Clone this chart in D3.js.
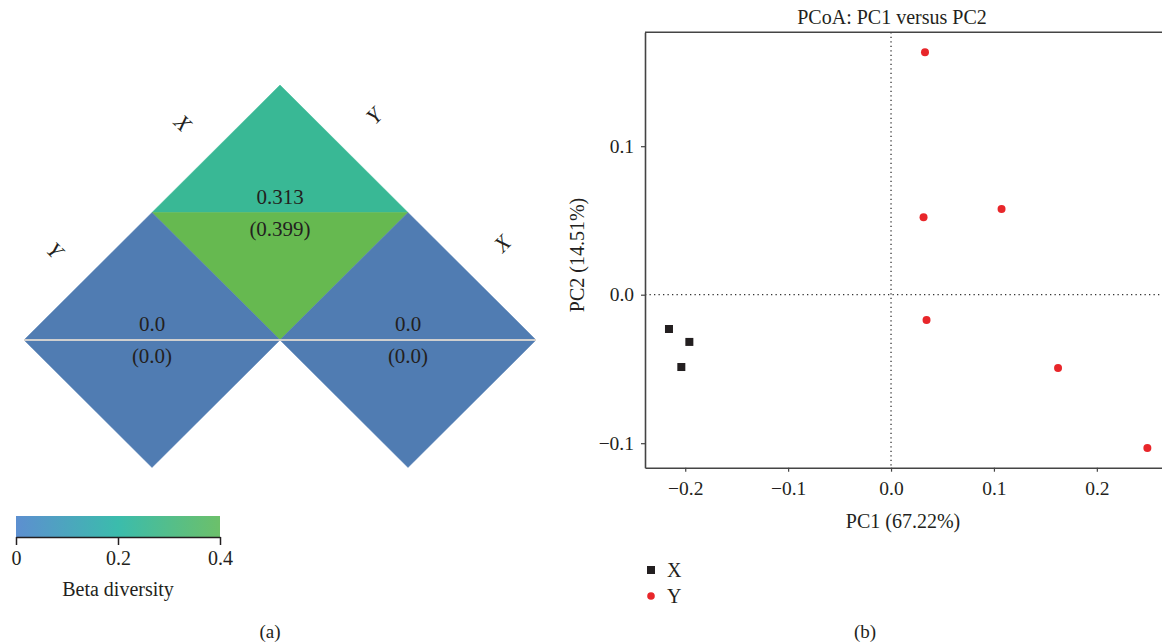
<!DOCTYPE html>
<html>
<head>
<meta charset="utf-8">
<script src="https://cdn.jsdelivr.net/npm/d3@7"></script>
<style>
  html, body { margin: 0; padding: 0; background: #fff; }
  svg { display: block; font-family: "Liberation Serif", "DejaVu Serif", serif; }
  text { fill: #231f20; }
</style>
</head>
<body>
<svg id="chart" width="1162" height="643"></svg>
<script>
// ---------- Panel (a): pairwise beta diversity ----------
const groups = ["X", "Y"];                 // group order along the left edge, top to bottom
const groupsRight = ["Y", "X"];            // group order along the right edge, top to bottom
// cells: left-edge group, right-edge group, upper value, lower value
const cellLeft  = ["X", "Y", "X"];
const cellRight = ["Y", "Y", "X"];
const upperValues = [0.313, 0.0, 0.0];
const lowerValues = [0.399, 0.0, 0.0];
const upperLabels = ["0.313", "0.0", "0.0"];
const lowerLabels = ["(0.399)", "(0.0)", "(0.0)"];
const colorTicks = [0, 0.2, 0.4];
const colorStops = ["#5d8fd0", "#3bbcac", "#6cc06a"];

// ---------- Panel (b): PCoA ----------
const xSamplesPC1 = [-0.2158, -0.1960, -0.2038];
const xSamplesPC2 = [-0.0231, -0.0318, -0.0487];
const ySamplesPC1 = [0.0330, 0.0316, 0.1074, 0.0345, 0.1623, 0.2491];
const ySamplesPC2 = [0.1632, 0.0521, 0.0577, -0.0170, -0.0494, -0.1032];
const pc1Ticks = [-0.2, -0.1, 0.0, 0.1, 0.2];
const pc2Ticks = [-0.1, 0.0, 0.1];

const svg = d3.select("#chart");
const defs = svg.append("defs");

// ===== Panel (a) =====
const gA = svg.append("g");
const apex = [280, 85];         // apex of the triangle
const half = [128, 127.5];      // half-diagonal of one diamond
const li = d3.scaleOrdinal().domain(groups).range([0, 1]);
const ri = d3.scaleOrdinal().domain(groupsRight).range([0, 1]);

// cell fill: blue at 0, teal around 0.3, green toward 0.4
const cellColor = d3.scaleLinear().domain([0, 0.32, 0.4])
  .range(["#507cb2", "#38b994", "#67b94f"]).clamp(true);

function cellTop(a, b) {
  return [apex[0] + (b - a) * half[0], apex[1] + (a + b) * half[1]];
}

cellLeft.forEach((lg, i) => {
  const a = li(lg), b = ri(cellRight[i]);
  const [tx, ty] = cellTop(a, b);
  const midY = ty + half[1];
  const upper = [[tx, ty], [tx + half[0], midY], [tx - half[0], midY]];
  const lower = [[tx - half[0], midY], [tx + half[0], midY], [tx, ty + 2 * half[1]]];
  gA.append("path").attr("d", d3.line()(upper) + "Z")
    .attr("fill", cellColor(upperValues[i])).attr("stroke", cellColor(upperValues[i])).attr("stroke-width", 0.5);
  gA.append("path").attr("d", d3.line()(lower) + "Z")
    .attr("fill", cellColor(lowerValues[i])).attr("stroke", cellColor(lowerValues[i])).attr("stroke-width", 0.5);
  if (lg === cellRight[i]) {
    gA.append("line").attr("x1", tx - half[0]).attr("x2", tx + half[0])
      .attr("y1", midY).attr("y2", midY).attr("stroke", "#cfcfcf").attr("stroke-width", 2);
  }
  gA.append("text").attr("x", tx).attr("y", midY - 9).attr("text-anchor", "middle")
    .attr("font-size", 21).text(upperLabels[i]);
  gA.append("text").attr("x", tx).attr("y", midY + 23).attr("text-anchor", "middle")
    .attr("font-size", 21).text(lowerLabels[i]);
});

// edge labels
groups.forEach(g => {
  const [tx, ty] = cellTop(li(g), 0);
  const mx = tx - half[0] / 2 - 33, my = ty + half[1] / 2 - 26;
  gA.append("text").attr("transform", `translate(${mx},${my}) rotate(45)`)
    .attr("text-anchor", "middle").attr("dy", "0.35em")
    .attr("font-size", 22).attr("font-style", "italic").text(g);
});
groupsRight.forEach(g => {
  const [tx, ty] = cellTop(0, ri(g));
  const mx = tx + half[0] / 2 + 30, my = ty + half[1] / 2 - 33;
  gA.append("text").attr("transform", `translate(${mx},${my}) rotate(-45)`)
    .attr("text-anchor", "middle").attr("dy", "0.35em")
    .attr("font-size", 22).attr("font-style", "italic").text(g);
});

// colour bar
const cb = d3.scaleLinear().domain([0, 0.4]).range([16, 220]);
const grad = defs.append("linearGradient").attr("id", "betaGrad");
colorTicks.forEach((t, i) => {
  grad.append("stop").attr("offset", (t / 0.4 * 100) + "%").attr("stop-color", colorStops[i]);
});
gA.append("rect").attr("x", cb(0)).attr("y", 516).attr("width", cb(0.4) - cb(0)).attr("height", 21)
  .attr("fill", "url(#betaGrad)");
const cbAxis = gA.append("g").attr("transform", "translate(0,537)")
  .call(d3.axisBottom(cb).tickValues(colorTicks).tickFormat(d => d === 0 ? "0" : d3.format(".1f")(d))
    .tickSize(8).tickSizeOuter(0).tickPadding(6));
cbAxis.select(".domain").attr("stroke", "#231f20").attr("stroke-width", 1.5);
cbAxis.selectAll(".tick line").attr("stroke", "#231f20").attr("stroke-width", 1.5);
cbAxis.selectAll("text").attr("font-size", 20).attr("font-family", "Liberation Serif").attr("fill", "#231f20");
gA.append("text").attr("x", cb(0.2)).attr("y", 596).attr("text-anchor", "middle")
  .attr("font-size", 20).text("Beta diversity");
gA.append("text").attr("x", 270).attr("y", 638).attr("text-anchor", "middle")
  .attr("font-size", 19).text("(a)");

// ===== Panel (b) =====
const gB = svg.append("g");
const x = d3.scaleLinear().domain([-0.2391, 0.27]).range([645, 645 + 0.5091 * 1029]);
const y = d3.scaleLinear().domain([-0.1165, 0.1767]).range([467.7, 32.3]);

const clip = defs.append("clipPath").attr("id", "plotClip");
clip.append("rect").attr("x", 645).attr("y", 32).attr("width", 530).attr("height", 436);

// reference lines at zero
gB.append("line").attr("x1", x(0)).attr("x2", x(0)).attr("y1", y.range()[1]).attr("y2", y.range()[0])
  .attr("stroke", "#333").attr("stroke-width", 1.3).attr("stroke-dasharray", "1.3,3.2");
gB.append("line").attr("x1", x.range()[0]).attr("x2", 1162).attr("y1", y(0)).attr("y2", y(0))
  .attr("stroke", "#333").attr("stroke-width", 1.3).attr("stroke-dasharray", "1.3,3.2");

// frame top edge
gB.append("line").attr("x1", 645).attr("x2", 1162).attr("y1", y.range()[1]).attr("y2", y.range()[1])
  .attr("stroke", "#444").attr("stroke-width", 1.6);

const xAxis = gB.append("g").attr("transform", `translate(0,${y.range()[0]})`)
  .call(d3.axisBottom(x).tickValues(pc1Ticks).tickFormat(d3.format(".1f")).tickSize(4).tickSizeOuter(0).tickPadding(9));
const yAxis = gB.append("g").attr("transform", `translate(${x.range()[0]},0)`)
  .call(d3.axisLeft(y).tickValues(pc2Ticks).tickFormat(d3.format(".1f")).tickSize(4).tickSizeOuter(0).tickPadding(7));
[xAxis, yAxis].forEach(ax => {
  ax.select(".domain").attr("stroke", "#444").attr("stroke-width", 1.6);
  ax.selectAll(".tick line").attr("stroke", "#444").attr("stroke-width", 1.2);
  ax.selectAll("text").attr("font-size", 19.5).attr("font-family", "Liberation Serif").attr("fill", "#231f20");
});

const pts = gB.append("g").attr("clip-path", "url(#plotClip)");
xSamplesPC1.forEach((v, i) => {
  pts.append("rect").attr("x", x(v) - 4).attr("y", y(xSamplesPC2[i]) - 4)
    .attr("width", 8).attr("height", 8).attr("fill", "#231f20");
});
ySamplesPC1.forEach((v, i) => {
  pts.append("circle").attr("cx", x(v)).attr("cy", y(ySamplesPC2[i])).attr("r", 4)
    .attr("fill", "#e8262a");
});

gB.append("text").attr("x", 892).attr("y", 24).attr("text-anchor", "middle")
  .attr("font-size", 20).text("PCoA: PC1 versus PC2");
gB.append("text").attr("x", 903).attr("y", 528).attr("text-anchor", "middle")
  .attr("font-size", 20).text("PC1 (67.22%)");
gB.append("text").attr("transform", "translate(584,255) rotate(-90)").attr("text-anchor", "middle")
  .attr("font-size", 20).text("PC2 (14.51%)");

// legend
gB.append("rect").attr("x", 647).attr("y", 566).attr("width", 8).attr("height", 8).attr("fill", "#231f20");
gB.append("text").attr("x", 667).attr("y", 577).attr("font-size", 20).text("X");
gB.append("circle").attr("cx", 651).attr("cy", 596).attr("r", 3.8).attr("fill", "#e8262a");
gB.append("text").attr("x", 667).attr("y", 603).attr("font-size", 20).text("Y");

gB.append("text").attr("x", 865).attr("y", 638).attr("text-anchor", "middle")
  .attr("font-size", 19).text("(b)");
</script>
</body>
</html>
